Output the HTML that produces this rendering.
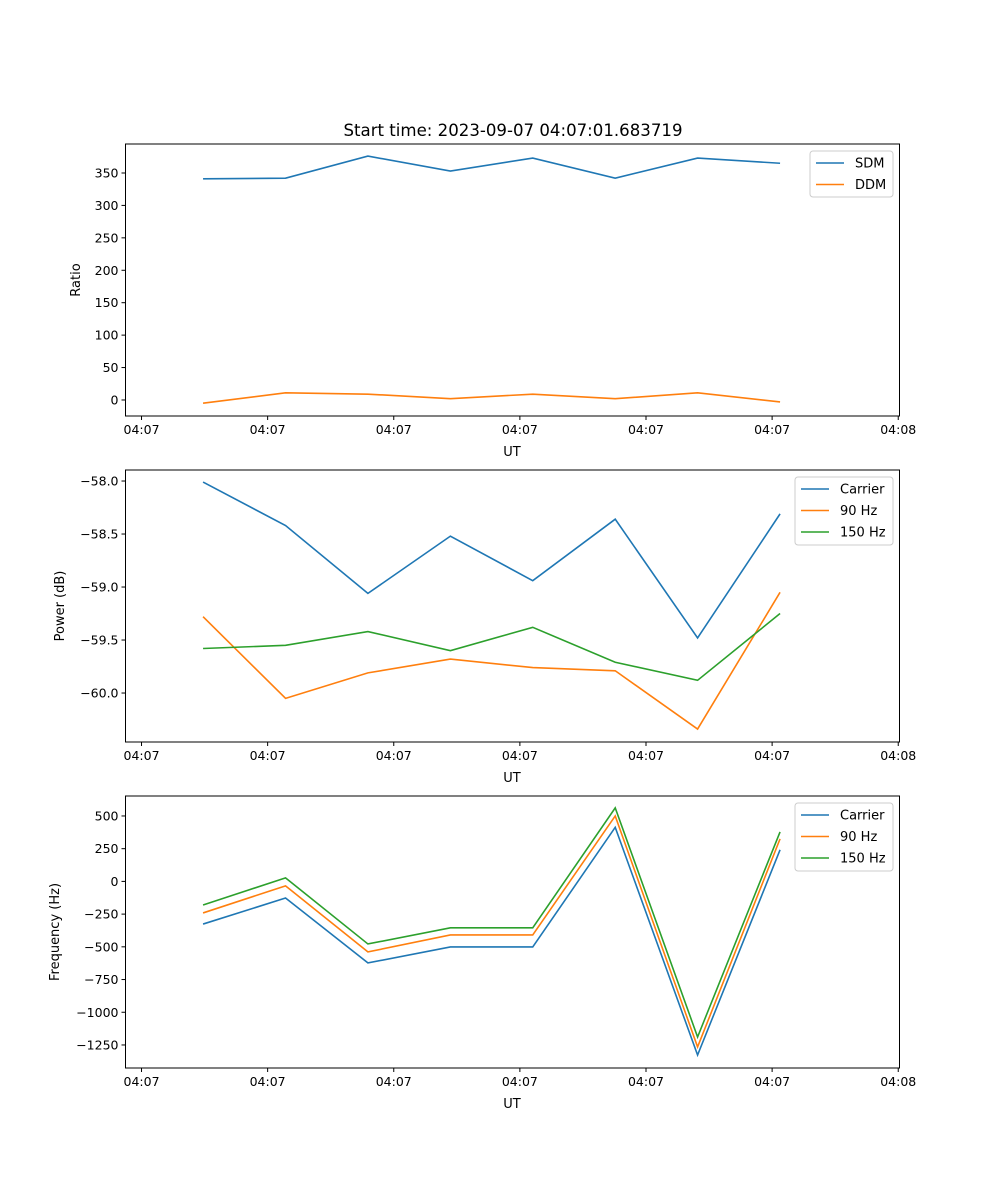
<!DOCTYPE html>
<html><head><meta charset="utf-8"><style>
body{margin:0;background:#fff}
svg{display:block;font-family:"DejaVu Sans","Liberation Sans",sans-serif}
</style></head><body>
<svg id="fig" width="1000" height="1200" xmlns="http://www.w3.org/2000/svg">
<text x="513" y="136" font-size="16.6" text-anchor="middle">Start time: 2023-09-07 04:07:01.683719</text>
</svg>
<script>
// seconds after 04:07:00
const times = [4.88, 11.42, 17.95, 24.49, 31.02, 37.56, 44.09, 50.63];
const xTickVals = [0, 10, 20, 30, 40, 50, 60];
const xTickLabels = ["04:07","04:07","04:07","04:07","04:07","04:07","04:08"];
const sdm = [341, 342, 376, 353, 373, 342, 373, 365];
const ddm = [-5, 11, 9, 2, 9, 2, 11, -3];
const powCarrier = [-58.01, -58.42, -59.06, -58.52, -58.94, -58.36, -59.48, -58.31];
const pow90 = [-59.28, -60.05, -59.81, -59.68, -59.76, -59.79, -60.34, -59.05];
const pow150 = [-59.58, -59.55, -59.42, -59.60, -59.38, -59.71, -59.88, -59.25];
const freqCarrier = [-326, -127, -623, -501, -501, 413, -1327, 241];
const freq90 = [-241, -34, -539, -409, -409, 500, -1265, 325];
const freq150 = [-180, 27, -478, -355, -355, 562, -1189, 378];
const ticks1 = [0, 50, 100, 150, 200, 250, 300, 350];
const ticks2 = [-60.0, -59.5, -59.0, -58.5, -58.0];
const ticks3 = [-1250, -1000, -750, -500, -250, 0, 250, 500];

const NS = "http://www.w3.org/2000/svg";
const svg = document.getElementById('fig');
const C = ['#1f77b4', '#ff7f0e', '#2ca02c'];
function mk(tag, attrs, parent) {
  const e = document.createElementNS(NS, tag);
  for (const k in attrs) e.setAttribute(k, attrs[k]);
  (parent || svg).appendChild(e);
  return e;
}
const L = 125.5, R = 899.5;
const xmin = -1.27, xmax = 60.1;
function xs(t) { return L + (t - xmin) / (xmax - xmin) * (R - L); }

function panel(key, top, bot, ymin, ymax, yticks, fmt, ylabel, series, names, legend) {
  const g = mk('g', {});
  
  
  const ys = v => bot - (v - ymin) / (ymax - ymin) * (bot - top);
  series.forEach((s, si) => {
    const pts = s.map((v, i) => xs(times[i]).toFixed(2) + ',' + ys(v).toFixed(2)).join(' ');
    const pl = mk('polyline', {points: pts, fill: 'none', stroke: C[si], 'stroke-width': 1.6}, g);
    
    
  });
  const fr = mk('rect', {x: L, y: top, width: R - L, height: bot - top, fill: 'none', stroke: '#000', 'stroke-width': 1}, g);
  
  
  xTickVals.forEach((t, i) => {
    const x = xs(t);
    mk('line', {x1: x, x2: x, y1: bot, y2: bot + 4, stroke: '#000'}, g);
    const tx = mk('text', {x: x, y: bot + 18, 'font-size': 12.5, 'text-anchor': 'middle'}, g);
    tx.textContent = xTickLabels[i];
    
    
  });
  const xl = mk('text', {x: 512, y: bot + 40, 'font-size': 13, 'text-anchor': 'middle'}, g);
  xl.textContent = 'UT';
  
  
  yticks.forEach(v => {
    const y = ys(v);
    mk('line', {x1: L - 4, x2: L, y1: y, y2: y, stroke: '#000'}, g);
    const tx = mk('text', {x: L - 7, y: y + 4.5, 'font-size': 12.5, 'text-anchor': 'end'}, g);
    tx.textContent = fmt(v);
    
    
  });
  const yl = mk('text', {x: 0, y: 0, 'font-size': 13, 'text-anchor': 'middle', transform: `translate(${legend.yx},${(top + bot) / 2}) rotate(-90)`}, g);
  yl.textContent = ylabel;
  
  
  const lg = mk('g', {}, g);
  
  
  mk('rect', {x: legend.x, y: top + 7, width: 893 - legend.x, height: 22 * names.length + 2, rx: 3, fill: '#fff', stroke: '#ccc'}, lg);
  names.forEach((n, i) => {
    const y = top + 19 + i * 21.5;
    mk('line', {x1: legend.x + 6, x2: legend.x + 34, y1: y, y2: y, stroke: C[i], 'stroke-width': 1.6}, lg);
    const t = mk('text', {x: legend.x + 45, y: y + 4.5, 'font-size': 13}, lg);
    t.textContent = n;
    
    
  });
}
const minus = s => s.replace('-', '\u2212');
panel('ratio', 144, 416, -24.7, 394.7, ticks1, v => minus(String(v)), 'Ratio', [sdm, ddm], ['SDM', 'DDM'], {x: 810, yx: 80});
panel('power', 470, 742, -60.462, -57.896, ticks2, v => minus(v.toFixed(1)), 'Power (dB)', [powCarrier, pow90, pow150], ['Carrier', '90 Hz', '150 Hz'], {x: 795, yx: 64});
panel('freq', 796, 1068, -1426, 652.6, ticks3, v => minus(String(v)), 'Frequency (Hz)', [freqCarrier, freq90, freq150], ['Carrier', '90 Hz', '150 Hz'], {x: 795, yx: 59});
</script>
</body></html>
